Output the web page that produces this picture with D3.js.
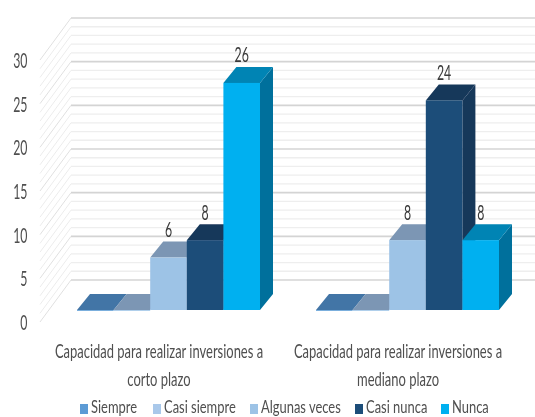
<!DOCTYPE html>
<html><head><meta charset="utf-8">
<script src="https://cdn.jsdelivr.net/npm/d3@7"></script>
<style>html,body{margin:0;background:#fff}svg{display:block}text{font-family:Lato,sans-serif}</style>
</head><body><svg id="c" width="535" height="417"></svg>
<script>
const categories=[["Capacidad para realizar inversiones a","corto plazo"],["Capacidad para realizar inversiones a","mediano plazo"]];
const seriesNames=["Siempre","Casi siempre","Algunas veces","Casi nunca","Nunca"];
const siempre=[0,0],casiSiempre=[0,0],algunasVeces=[6,8],casiNunca=[8,24],nunca=[26,8];
const seriesValues=[siempre,casiSiempre,algunasVeces,casiNunca,nunca];
const yTicks=[0,5,10,15,20,25,30];
const gridValues=d3.range(0,31);
const front=["#5b9bd5","#9dc3e6","#9dc3e6","#1f4e79","#00b0f0"];
const legendCol=["#5b9bd5","#a9c8ea","#9dc3e6","#1f4e79","#00b0f0"];
const topC=["#4375a6","#7b96b4","#7b96b4","#17375a","#0084b4"];
const sideC=["#3f6f9e","#6f8cab","#6f8cab","#17375a","#006f9c"];

const svg=d3.select("#c");
const root=svg.append("g").attr("filter","url(#soft)");
svg.append("defs").append("filter").attr("id","soft").attr("x","-5%").attr("y","-5%").attr("width","110%").attr("height","110%")
 .append("feGaussianBlur").attr("stdDeviation",0.5);

const yWall=d3.scaleLinear().domain([0,30]).range([322,60]);
const wallDx=31,wallDy=-42,barDx=13,barDy=-16,barBase=310;
const yBar=d3.scaleLinear().domain([0,30]).range([barBase,barBase-262]);
const x0=d3.scaleBand().domain(d3.range(categories.length)).range([49,527]);
const x1=d3.scaleBand().domain(d3.range(seriesNames.length)).range([0,183]);
const barStart=g=>x0(g)+(x0.bandwidth()-x1.range()[1])/2;

const grid=root.append("g");
gridValues.forEach(v=>{
  const major=v%5===0,y=yWall(v);
  const c=major?"#d4d4d4":"#eeeeee",w=major?1.6:1.3;
  grid.append("line").attr("x1",40).attr("y1",y).attr("x2",40+wallDx).attr("y2",y+wallDy).attr("stroke",major?"#e0e0e0":"#ececec").attr("stroke-width",1);
  grid.append("line").attr("x1",40+wallDx).attr("y1",y+wallDy).attr("x2",535).attr("y2",y+wallDy).attr("stroke",c).attr("stroke-width",w);
});

const squeezed=(sel,x,y,t,size,sx,fill,anchor)=>sel.append("text")
  .attr("transform",`translate(${x},${y}) scale(${sx},1)`).attr("font-size",size).attr("fill",fill)
  .attr("text-anchor",anchor||"middle").text(t);

yTicks.forEach(t=>squeezed(root,27.5,yWall(t)+8,t,22,0.56,"#4f4f4f","end"));

seriesNames.forEach((s,i)=>{
  categories.forEach((c,g)=>{
    const v=seriesValues[i][g],x=barStart(g)+x1(i),w=x1.bandwidth(),yt=yBar(v),yb=yBar(0);
    const b=root.append("g");
    if(v>0) b.append("path").attr("d",`M${x+w},${yt}L${x+w+barDx},${yt+barDy}L${x+w+barDx},${yb+barDy}L${x+w},${yb}Z`).attr("fill",sideC[i]);
    b.append("path").attr("d",`M${x},${yt}L${x+barDx},${yt+barDy}L${x+w+barDx},${yt+barDy}L${x+w},${yt}Z`).attr("fill",topC[i]);
    b.append("rect").attr("x",x).attr("y",yt).attr("width",w).attr("height",Math.max(yb-yt,0.8)).attr("fill",front[i]);
  });
});
seriesNames.forEach((s,i)=>categories.forEach((c,g)=>{
  const v=seriesValues[i][g];
  if(v>0) squeezed(root,barStart(g)+x1(i)+x1.bandwidth()/2,yBar(v)+barDy-4.5,v,22,0.56,"#3a3a3a");
}));

categories.forEach((c,g)=>{
  const cx=barStart(g)+x1.range()[1]/2-9.5;
  c.forEach((ln,k)=>squeezed(root,cx,358+k*28,ln,19.5,0.665,"#4f4f4f"));
});

const legendX=[80,153,250,355,441];
seriesNames.forEach((s,i)=>{
  root.append("rect").attr("x",legendX[i]).attr("y",404).attr("width",8).attr("height",10).attr("fill",legendCol[i]);
  squeezed(root,legendX[i]+11,412.5,s,17.5,0.74,"#4f4f4f","start");
});
</script></body></html>
